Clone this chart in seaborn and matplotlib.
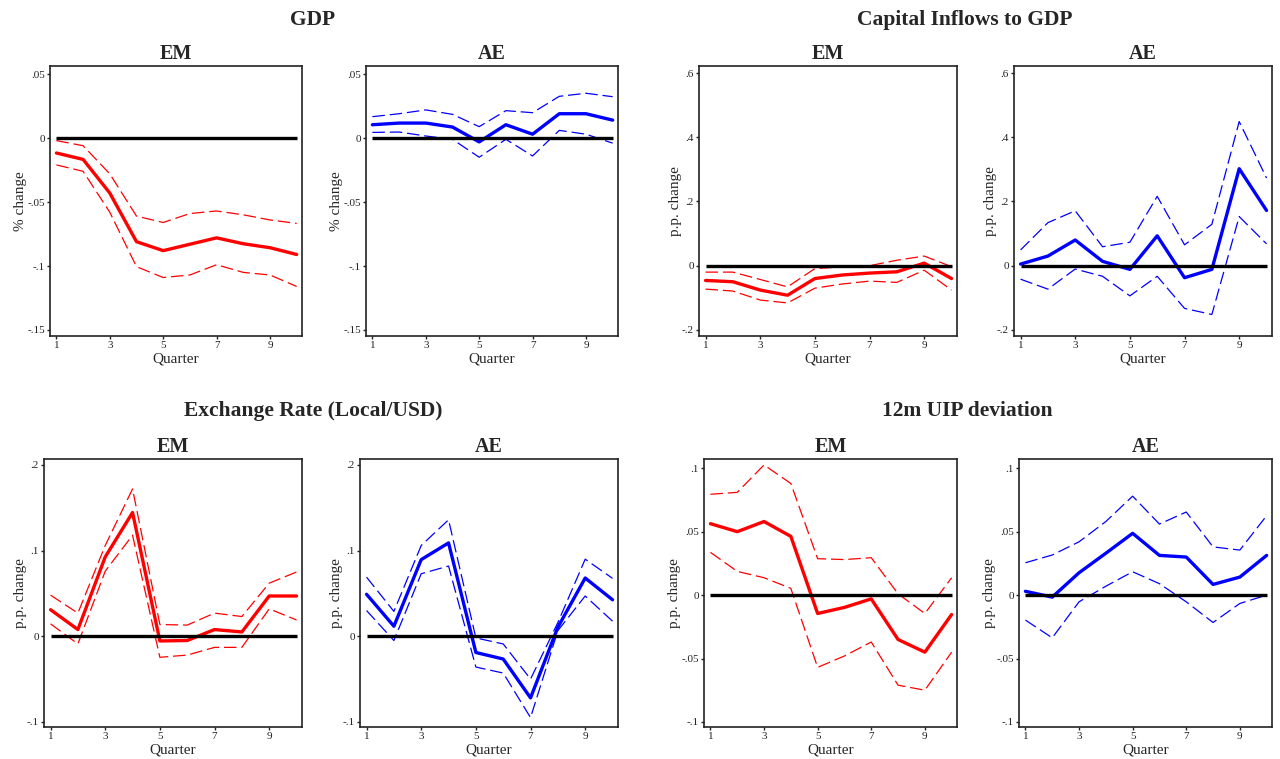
import numpy as np
import pandas as pd
import matplotlib
matplotlib.use("Agg")
import matplotlib.pyplot as plt
import seaborn as sns

# Impulse responses: point estimate with lower/upper confidence bands, quarters 1-10
quarters = list(range(1, 11))

gdp_em = [-0.0117, -0.0167, -0.043, -0.081, -0.088, -0.083, -0.078, -0.0826, -0.0857, -0.091]
gdp_em_hi = [-0.002, -0.006, -0.028, -0.061, -0.066, -0.059, -0.057, -0.060, -0.064, -0.0667]
gdp_em_lo = [-0.021, -0.026, -0.058, -0.1005, -0.109, -0.107, -0.099, -0.105, -0.107, -0.116]

gdp_ae = [0.0104, 0.0117, 0.0117, 0.0086, -0.003, 0.0104, 0.003, 0.019, 0.019, 0.014]
gdp_ae_hi = [0.0167, 0.019, 0.022, 0.0185, 0.0089, 0.0214, 0.0198, 0.0326, 0.035, 0.0323]
gdp_ae_lo = [0.0044, 0.0047, 0.0016, -0.001, -0.015, -0.001, -0.014, 0.006, 0.003, -0.004]

cap_em = [-0.046, -0.050, -0.076, -0.092, -0.040, -0.029, -0.023, -0.019, 0.008, -0.040]
cap_em_hi = [-0.020, -0.020, -0.043, -0.066, -0.009, -0.004, 0.000, 0.017, 0.030, -0.003]
cap_em_lo = [-0.073, -0.079, -0.107, -0.116, -0.070, -0.057, -0.048, -0.052, -0.014, -0.076]

cap_ae = [0.005, 0.030, 0.080, 0.0135, -0.0115, 0.093, -0.0375, -0.0115, 0.302, 0.172]
cap_ae_hi = [0.049, 0.134, 0.171, 0.059, 0.073, 0.216, 0.065, 0.129, 0.449, 0.273]
cap_ae_lo = [-0.042, -0.073, -0.0104, -0.033, -0.094, -0.033, -0.133, -0.152, 0.153, 0.068]

fx_em = [0.031, 0.0078, 0.0926, 0.1445, -0.0055, -0.005, 0.0078, 0.005, 0.047, 0.047]
fx_em_hi = [0.048, 0.027, 0.106, 0.172, 0.0137, 0.013, 0.027, 0.023, 0.062, 0.075]
fx_em_lo = [0.0145, -0.009, 0.076, 0.118, -0.0246, -0.022, -0.013, -0.013, 0.032, 0.019]

fx_ae = [0.049, 0.0117, 0.0895, 0.109, -0.019, -0.0266, -0.072, 0.0105, 0.068, 0.0426]
fx_ae_hi = [0.069, 0.029, 0.106, 0.136, -0.002, -0.009, -0.050, 0.016, 0.090, 0.0676]
fx_ae_lo = [0.030, -0.005, 0.073, 0.082, -0.036, -0.043, -0.095, 0.0066, 0.047, 0.0176]

uip_em = [0.0563, 0.050, 0.058, 0.0463, -0.0145, -0.0097, -0.003, -0.035, -0.045, -0.0153]
uip_em_hi = [0.0795, 0.081, 0.1026, 0.088, 0.0287, 0.028, 0.0295, 0.001, -0.0145, 0.0137]
uip_em_lo = [0.0337, 0.0187, 0.0137, 0.0053, -0.057, -0.048, -0.037, -0.071, -0.075, -0.045]

uip_ae = [0.003, -0.0016, 0.0176, 0.033, 0.0487, 0.0313, 0.030, 0.0084, 0.0142, 0.0313]
uip_ae_hi = [0.0255, 0.0316, 0.042, 0.058, 0.078, 0.056, 0.0655, 0.038, 0.0355, 0.0626]
uip_ae_lo = [-0.0197, -0.0337, -0.0053, 0.007, 0.0184, 0.009, -0.0053, -0.0216, -0.0066, 0.000]

group_titles = ["GDP", "Capital Inflows to GDP", "Exchange Rate (Local/USD)", "12m UIP deviation"]
panel_titles = ["EM", "AE"]
y_labels = ["% change", "p.p. change", "p.p. change", "p.p. change"]
x_label = "Quarter"
x_ticks = [1, 3, 5, 7, 9]
y_ticks = [
    [-0.15, -0.1, -0.05, 0, 0.05],
    [-0.2, 0, 0.2, 0.4, 0.6],
    [-0.1, 0, 0.1, 0.2],
    [-0.1, -0.05, 0, 0.05, 0.1],
]
y_limits = [(-0.1547, 0.0563), (-0.219, 0.622), (-0.106, 0.207), (-0.104, 0.1073)]

series = [
    [(gdp_em, gdp_em_lo, gdp_em_hi), (gdp_ae, gdp_ae_lo, gdp_ae_hi)],
    [(cap_em, cap_em_lo, cap_em_hi), (cap_ae, cap_ae_lo, cap_ae_hi)],
    [(fx_em, fx_em_lo, fx_em_hi), (fx_ae, fx_ae_lo, fx_ae_hi)],
    [(uip_em, uip_em_lo, uip_em_hi), (uip_ae, uip_ae_lo, uip_ae_hi)],
]
colors = ["#ff0000", "#0000ff"]

sns.set_theme(style="white")
plt.rcParams["font.family"] = ["Liberation Serif", "DejaVu Serif"]
plt.rcParams["lines.scale_dashes"] = False

W, H = 1280, 759
fig = plt.figure(figsize=(W / 100, H / 100), dpi=100)

# axes boxes in pixels: (left, right, top, bottom)
boxes = [
    [(50, 302, 66, 336), (366, 618, 66, 336)],
    [(699, 957, 66, 336), (1014, 1272, 66, 336)],
    [(44, 302, 459, 727), (360, 618, 459, 727)],
    [(704, 957, 459, 727), (1019, 1272, 459, 727)],
]
group_pos = [(313, 20), (965, 20), (313, 411), (967, 411)]


def fmt(v):
    if abs(v) < 1e-12:
        return "0"
    s = f"{v:g}"
    return s.replace("-0.", "-.").replace("0.", ".")


for g in range(4):
    gx, gy = group_pos[g]
    fig.text(gx / W, 1 - gy / H, group_titles[g], ha="center", va="center",
             fontsize=15.5, fontweight="bold")
    for p in range(2):
        l, r, t, b = boxes[g][p]
        ax = fig.add_axes([l / W, 1 - b / H, (r - l) / W, (b - t) / H])
        mid, lo, hi = series[g][p]
        df = pd.DataFrame({"quarter": quarters, "mid": mid, "lo": lo, "hi": hi})
        for col in ["hi", "lo"]:
            sns.lineplot(data=df, x="quarter", y=col, ax=ax, color=colors[p],
                         lw=0.9, estimator=None)
            ax.lines[-1].set_dashes((9, 3.5))
        sns.lineplot(data=df, x="quarter", y="mid", ax=ax, color=colors[p],
                     lw=2.4, estimator=None)
        ax.hlines(0, quarters[0], quarters[-1], color="black", lw=2.4, zorder=5)

        ax.set_xlim(0.76, 10.2)
        ax.set_ylim(*y_limits[g])
        ax.set_xticks(x_ticks)
        ax.set_xticklabels([str(v) for v in x_ticks])
        ax.set_yticks(y_ticks[g])
        ax.set_yticklabels([fmt(v) for v in y_ticks[g]])
        ax.tick_params(axis="both", which="major", labelsize=8, length=2.2, width=1,
                       direction="out", bottom=True, left=True, top=False, right=False,
                       pad=1.5, colors="#222222")
        for s in ax.spines.values():
            s.set_color("#222222")
            s.set_linewidth(1.2)
        ax.set_xlabel(x_label, fontsize=11, labelpad=1.5)
        ax.set_ylabel(y_labels[g], fontsize=11, labelpad=0)
        ax.set_title(panel_titles[p], fontsize=14.5, fontweight="bold", pad=5)
        ax.grid(False)

fig.savefig("out.png", dpi=100)
